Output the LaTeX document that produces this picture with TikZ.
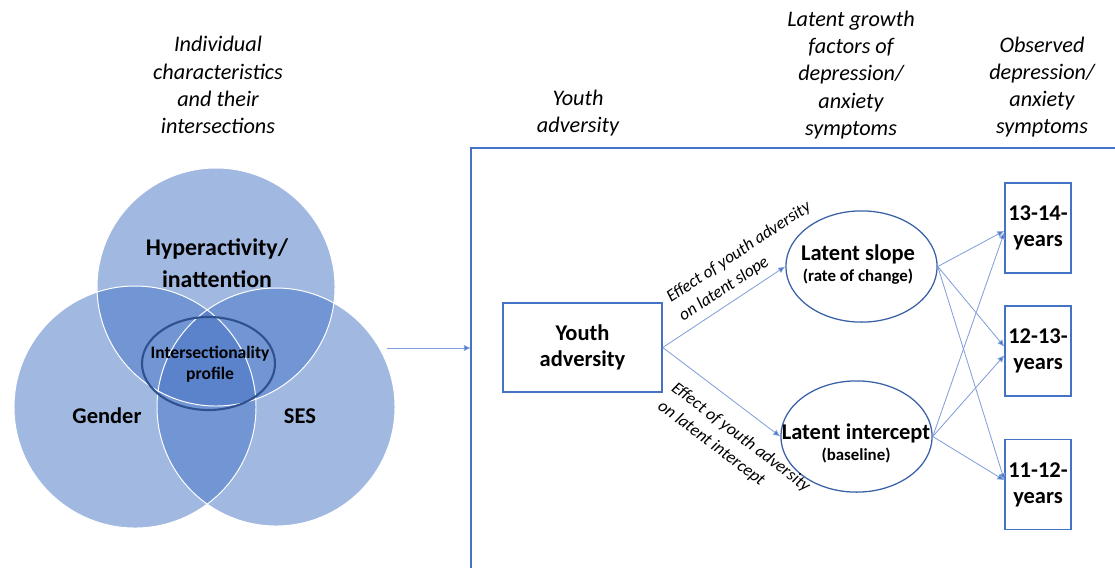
\documentclass[tikz,border=0pt]{standalone}
\usepackage{fontspec}
\setmainfont{Carlito}
\usetikzlibrary{shapes.geometric,arrows.meta}
\definecolor{vennblue}{RGB}{68,114,196}
\definecolor{linkblue}{RGB}{130,160,218}
\definecolor{boxblue}{RGB}{68,114,196}
\definecolor{darknavy}{RGB}{47,82,143}

\begin{document}
\begin{tikzpicture}[x=0.025cm,y=-0.025cm,
  hdr/.style={font=\itshape\fontsize{15.8}{19.3}\selectfont, align=center},
  lbl/.style={font=\bfseries\fontsize{16}{19}\selectfont, align=center},
  sublbl/.style={font=\bfseries\fontsize{12}{14}\selectfont},
  efflbl/.style={font=\itshape\fontsize{12.3}{16}\selectfont, align=left, inner sep=1pt},
  obsbox/.style={draw=boxblue, line width=0.9pt, minimum width=1.65cm, minimum height=2.25cm, inner sep=0pt},
  latent/.style={draw=boxblue!85!black, line width=0.9pt, ellipse, minimum width=3.78cm, minimum height=2.78cm, inner sep=0pt},
  link/.style={draw=linkblue, line width=0.6pt, -{Latex[length=5pt,width=4.5pt,fill=boxblue]}}
]
\useasboundingbox (0,0) rectangle (1115,568);

\fill[vennblue, fill opacity=0.5] (216,287) circle (119);
\fill[vennblue, fill opacity=0.5] (135,407) circle (121);
\fill[vennblue, fill opacity=0.5] (276,407) circle (119);
\draw[white, line width=0.7pt] (216,287) circle (119);
\draw[white, line width=0.7pt] (135,407) circle (121);
\draw[white, line width=0.7pt] (276,407) circle (119);
\draw[darknavy, line width=1.5pt] (208.5,363.5) ellipse [x radius=66.5, y radius=46.5];

\node[hdr] (indiv) at (218,85) {Individual\\characteristics\\and their\\intersections};
\node[lbl, font=\bfseries\fontsize{17}{22.5}\selectfont] (hyper) at (217,263) {Hyperactivity/\\inattention};
\node[lbl, font=\bfseries\fontsize{12.5}{15}\selectfont] (profile) at (210,364) {Intersectionality\\profile};
\node[lbl] (gender) at (107,416) {Gender};
\node[lbl] (ses) at (300,416) {SES};

\node[hdr] (hya) at (578,113) {Youth\\adversity};
\node[hdr] (hlat) at (851,75) {Latent growth\\factors of\\depression/\\anxiety\\symptoms};
\node[hdr] (hobs) at (1042,87) {Observed\\depression/\\anxiety\\symptoms};

\draw[boxblue, line width=0.9pt] (471,568) -- (471,148) -- (1115,148);
\coordinate (vennout) at (387,348);
\coordinate (framein) at (471,348);
\draw[link] (vennout) -- (framein);

\node[draw=boxblue, line width=0.9pt, minimum width=3.98cm, minimum height=2.23cm, lbl] (ya) at (582.5,347.5) {Youth\\adversity};

\node[latent] (slope) at (861.5,266.5) {};
\node[lbl] (slopetxt) at (858,254) {Latent slope};
\node[sublbl] (slopesub) at (858,277) {(rate of change)};
\node[latent] (icpt) at (856.5,436.5) {};
\node[lbl] (icpttxt) at (856,433) {Latent intercept};
\node[sublbl] (icptsub) at (856,456) {(baseline)};

\node[obsbox, lbl, font=\bfseries\fontsize{16}{18.5}\selectfont] (y1314) at (1038,228) {13-14-\\years};
\node[obsbox, lbl, font=\bfseries\fontsize{16}{18.5}\selectfont] (y1213) at (1038,351) {12-13-\\years};
\node[obsbox, lbl, font=\bfseries\fontsize{16}{18.5}\selectfont] (y1112) at (1038,484.5) {11-12-\\years};

\draw[link] (ya.east) -- (slope.west) node[efflbl, sloped, above=4pt, pos=0.79] {Effect of youth adversity\\on latent slope};
\draw[link] (ya.east) -- (icpt.west) node[efflbl, sloped, below=11pt, pos=0.79] {Effect of youth adversity\\on latent intercept};

\draw[link] (slope.east) -- ([yshift=-2pt]y1314.west);
\draw[link] (slope.east) -- ([yshift=3pt]y1213.west);
\draw[link] (slope.east) -- ([yshift=3pt]y1112.west);
\draw[link] (icpt.east) -- ([yshift=-3pt]y1314.west);
\draw[link] (icpt.east) -- ([yshift=-3pt]y1213.west);
\draw[link] (icpt.east) -- ([yshift=3pt]y1112.west);
\end{tikzpicture}
\end{document}
